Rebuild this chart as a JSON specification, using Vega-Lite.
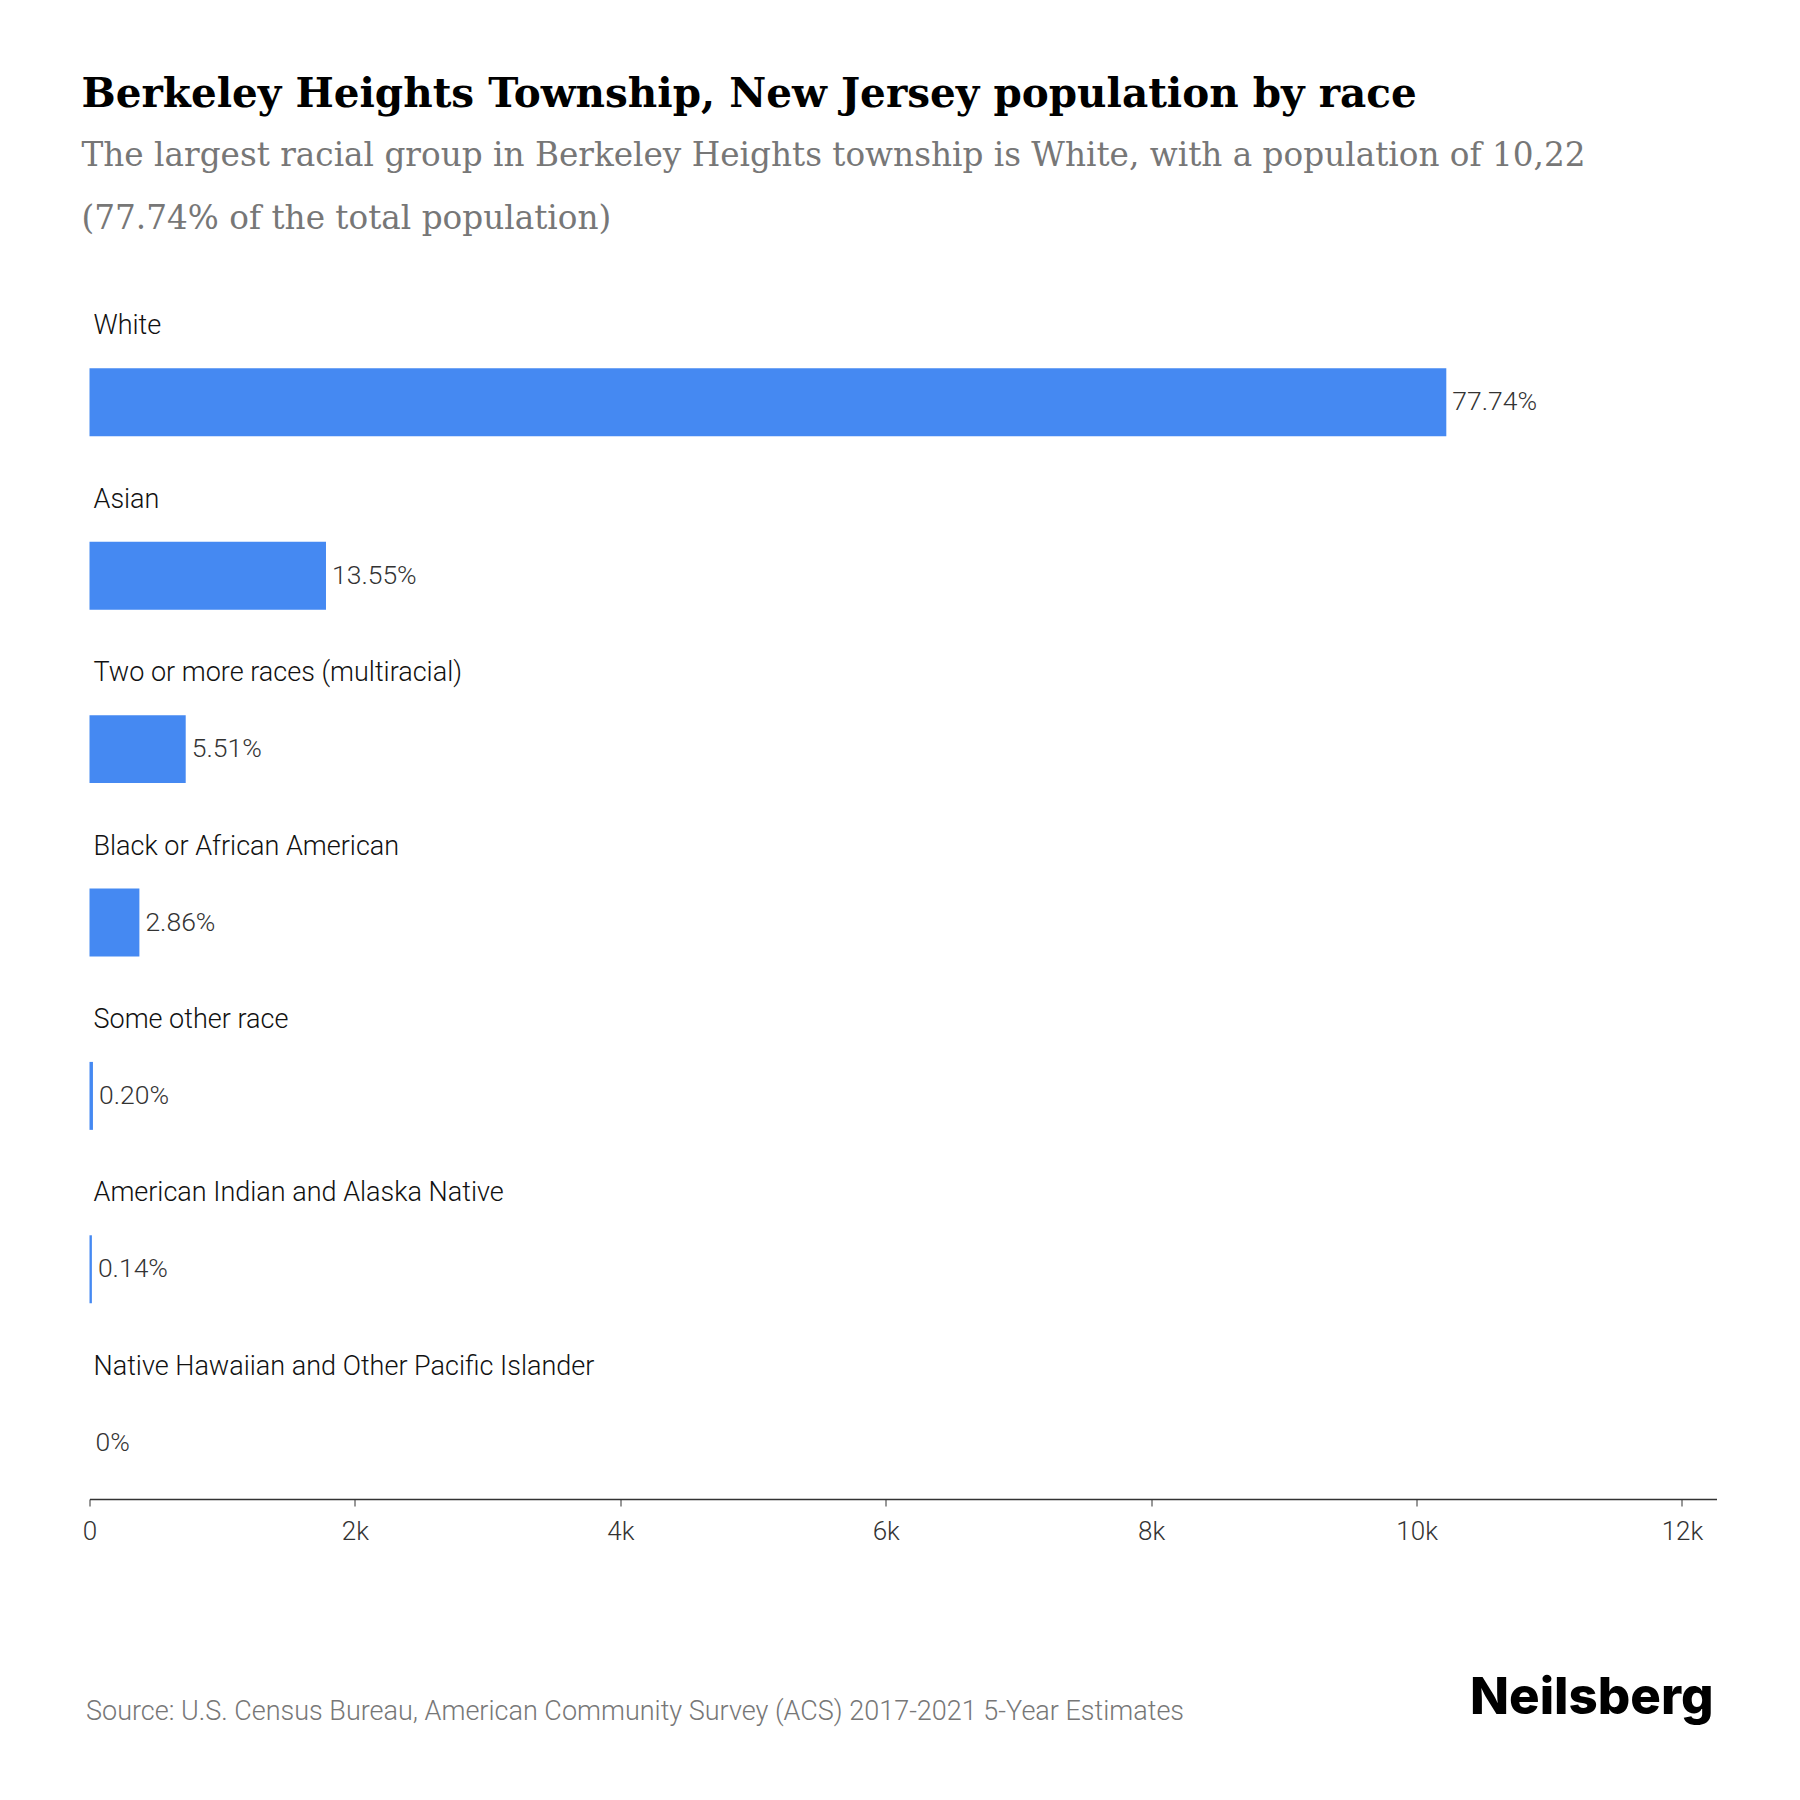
{
  "$schema": "https://vega.github.io/schema/vega-lite/v6.json",
  "autosize": {"type": "none"},
  "width": 1627,
  "height": 1153,
  "padding": {"left": 89.5, "top": 346, "right": 83.5, "bottom": 301},
  "background": "white",
  "config": {"view": {"stroke": null}},
  "title": {
    "text": "Berkeley Heights Township, New Jersey population by race",
    "subtitle": ["The largest racial group in Berkeley Heights township is White, with a population of 10,22", "(77.74% of the total population)"],
    "anchor": "start",
    "frame": "group",
    "dx": -8,
    "offset": 77,
    "font": "DejaVu Serif",
    "fontSize": 40.5,
    "fontWeight": "bold",
    "color": "#000000",
    "subtitleFont": "DejaVu Serif",
    "subtitleFontSize": 32.7,
    "subtitleColor": "#777777",
    "subtitleLineHeight": 63,
    "subtitlePadding": 24
  },
  "data": {
    "values": [
      {"race": "White", "population": 10224, "label": "77.74%"},
      {"race": "Asian", "population": 1782, "label": "13.55%"},
      {"race": "Two or more races (multiracial)", "population": 725, "label": "5.51%"},
      {"race": "Black or African American", "population": 376, "label": "2.86%"},
      {"race": "Some other race", "population": 26, "label": "0.20%"},
      {"race": "American Indian and Alaska Native", "population": 18, "label": "0.14%"},
      {"race": "Native Hawaiian and Other Pacific Islander", "population": 0, "label": "0%"}
    ]
  },
  "encoding": {
    "y": {
      "field": "race",
      "type": "nominal",
      "sort": null,
      "scale": {"paddingInner": 0.608, "paddingOuter": 0.129},
      "axis": null
    }
  },
  "layer": [
    {
      "mark": {"type": "bar", "color": "#4589f2"},
      "encoding": {
        "x": {
          "field": "population",
          "type": "quantitative",
          "scale": {"domain": [0, 12260], "nice": false},
          "axis": {
            "values": [0, 2000, 4000, 6000, 8000, 10000, 12000],
            "labelExpr": "datum.value == 0 ? '0' : (datum.value / 1000) + 'k'",
            "grid": false,
            "domainColor": "#333333",
            "domainWidth": 1.5,
            "tickColor": "#333333",
            "tickSize": 7,
            "tickWidth": 1,
            "labelFont": "Roboto",
            "labelFontWeight": 300,
            "labelFontSize": 26,
            "labelColor": "#333333",
            "labelPadding": 12,
            "labelFlush": false,
            "title": "Source: U.S. Census Bureau, American Community Survey (ACS) 2017-2021 5-Year Estimates",
            "titleFont": "Roboto",
            "titleFontWeight": 300,
            "titleFontSize": 27,
            "titleColor": "#777777",
            "titleAnchor": "start",
            "titleAlign": "left",
            "titleBaseline": "middle",
            "titleX": -4,
            "titleY": 212
          }
        }
      }
    },
    {
      "mark": {"type": "text", "align": "left", "baseline": "middle", "dx": 6, "font": "Roboto", "fontWeight": 300, "fontSize": 26.5, "color": "#333333"},
      "encoding": {
        "x": {"field": "population", "type": "quantitative"},
        "text": {"field": "label"}
      }
    },
    {
      "mark": {"type": "text", "align": "left", "baseline": "middle", "dx": 4, "dy": -76, "font": "Roboto", "fontWeight": 300, "fontSize": 27, "color": "#111111"},
      "encoding": {
        "x": {"datum": 0},
        "text": {"field": "race"}
      }
    },
    {
      "data": {"values": [{"logo": "Neilsberg", "race": "Native Hawaiian and Other Pacific Islander"}]},
      "mark": {"type": "text", "align": "right", "baseline": "middle", "dy": 256, "dx": -3, "font": "Inter", "fontWeight": 800, "fontSize": 51, "color": "#000000"},
      "encoding": {
        "x": {"datum": 12260},
        "text": {"field": "logo"}
      }
    }
  ]
}
